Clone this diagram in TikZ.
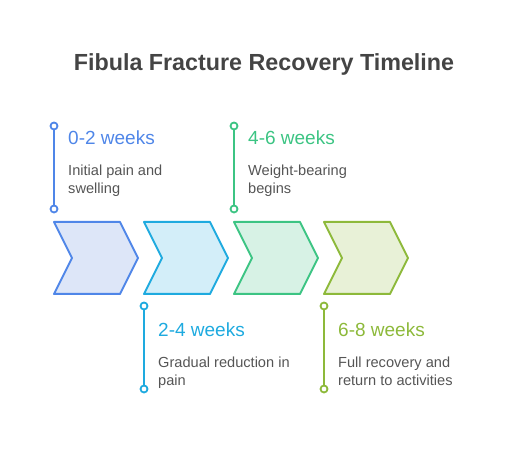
\documentclass[tikz,border=0pt]{standalone}
\usepackage{fontspec}
\setmainfont{Liberation Sans}
\definecolor{cblue}{HTML}{4F86E8}
\definecolor{fblue}{HTML}{DDE6F8}
\definecolor{ccyan}{HTML}{1EAADF}
\definecolor{fcyan}{HTML}{D3EEF9}
\definecolor{cgreen}{HTML}{3CC483}
\definecolor{fgreen}{HTML}{D7F2E5}
\definecolor{colive}{HTML}{8DB93A}
\definecolor{folive}{HTML}{E8F1D7}
\definecolor{ctitle}{HTML}{444444}
\definecolor{ctext}{HTML}{555555}
\begin{document}
\begin{tikzpicture}[x=1pt,y=-1pt,
  chev/.style={line width=2pt,line join=round},
  stem/.style={line width=2pt},
  dot/.style={circle,draw,line width=1.8pt,fill=white,inner sep=0pt,minimum size=7pt},
  head/.style={anchor=base west,inner sep=0pt,font=\fontsize{19}{22}\selectfont},
  desc/.style={anchor=base west,inner sep=0pt,text=ctext,font=\fontsize{14.6}{18}\selectfont},
  ttl/.style={inner sep=0pt,anchor=base,text=ctitle,font=\fontsize{23.3}{27}\selectfont\bfseries}]
\useasboundingbox (0,0) rectangle (528,462);
\node[ttl] (title) at (264,71) {Fibula Fracture Recovery Timeline};
% chevrons
\foreach \i/\c/\f in {0/cblue/fblue,1/ccyan/fcyan,2/cgreen/fgreen,3/colive/folive}{
  \draw[chev,draw=\c,fill=\f] ({54+90*\i},222) -- ({120+90*\i},222) -- ({138+90*\i},258)
     -- ({120+90*\i},294) -- ({54+90*\i},294) -- ({72+90*\i},258) -- cycle;
}
% stems
\coordinate (t1a) at (54,126); \coordinate (t1b) at (54,209);
\coordinate (t3a) at (234,126); \coordinate (t3b) at (234,209);
\coordinate (b2a) at (144,306); \coordinate (b2b) at (144,389);
\coordinate (b4a) at (324,306); \coordinate (b4b) at (324,389);
\draw[stem,cblue] (t1a) -- (t1b);
\draw[stem,cgreen] (t3a) -- (t3b);
\draw[stem,ccyan] (b2a) -- (b2b);
\draw[stem,colive] (b4a) -- (b4b);
\node[dot,draw=cblue] (d1a) at (t1a) {}; \node[dot,draw=cblue] (d1b) at (t1b) {};
\node[dot,draw=cgreen] (d3a) at (t3a) {}; \node[dot,draw=cgreen] (d3b) at (t3b) {};
\node[dot,draw=ccyan] (d2a) at (b2a) {}; \node[dot,draw=ccyan] (d2b) at (b2b) {};
\node[dot,draw=colive] (d4a) at (b4a) {}; \node[dot,draw=colive] (d4b) at (b4b) {};
% texts
\node[head,text=cblue] (h1) at (68,145) {0-2 weeks};
\node[desc] (x1a) at (68,176) {Initial pain and};
\node[desc] (x1b) at (68,194) {swelling};
\node[head,text=cgreen] (h3) at (248,145) {4-6 weeks};
\node[desc] (x3a) at (248,176) {Weight-bearing};
\node[desc] (x3b) at (248,194) {begins};
\node[head,text=ccyan] (h2) at (158,337) {2-4 weeks};
\node[desc] (x2a) at (158,368) {Gradual reduction in};
\node[desc] (x2b) at (158,386) {pain};
\node[head,text=colive] (h4) at (338,337) {6-8 weeks};
\node[desc] (x4a) at (338,368) {Full recovery and};
\node[desc] (x4b) at (338,386) {return to activities};
\end{tikzpicture}
\end{document}
